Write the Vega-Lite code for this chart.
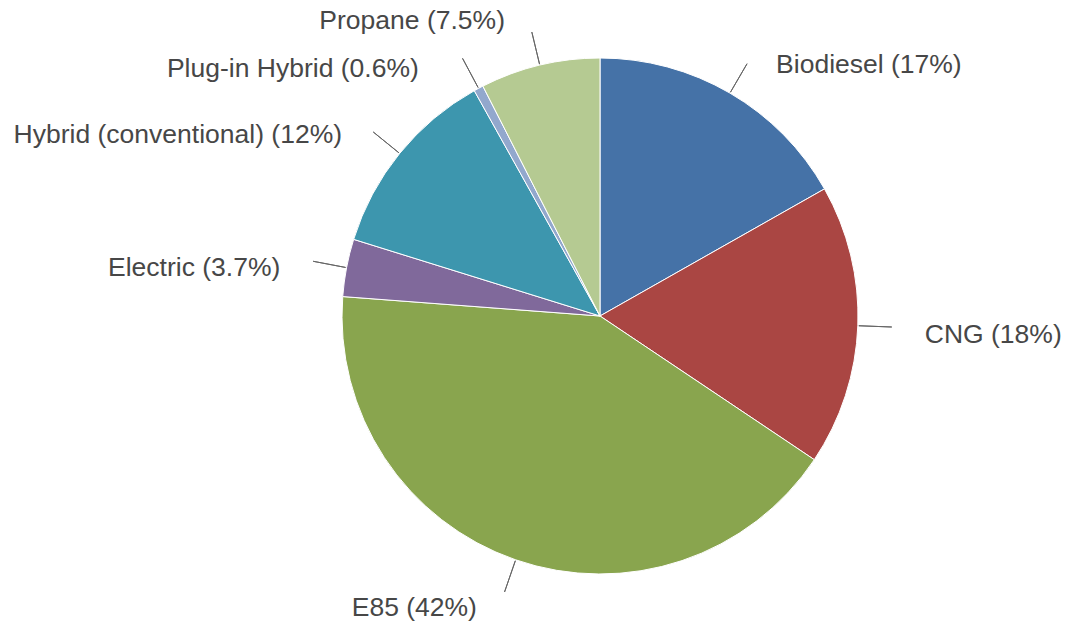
{
  "$schema": "https://vega.github.io/schema/vega-lite/v6.json",
  "autosize": "none",
  "width": 938,
  "height": 632,
  "padding": {"left": 131, "top": 0, "right": 0, "bottom": 0},
  "background": "white",
  "config": {"view": {"stroke": null}},
  "data": {
    "values": [
      {"fuel": "Biodiesel", "share": 16.8, "label": "Biodiesel (17%)", "side": "right"},
      {"fuel": "CNG", "share": 17.6, "label": "CNG (18%)", "side": "right"},
      {"fuel": "E85", "share": 41.8, "label": "E85 (42%)", "side": "left"},
      {"fuel": "Electric", "share": 3.6, "label": "Electric (3.7%)", "side": "left"},
      {"fuel": "Hybrid (conventional)", "share": 12.1, "label": "Hybrid (conventional) (12%)", "side": "left"},
      {"fuel": "Plug-in Hybrid", "share": 0.6, "label": "Plug-in Hybrid (0.6%)", "side": "top2"},
      {"fuel": "Propane", "share": 7.5, "label": "Propane (7.5%)", "side": "top1"}
    ]
  },
  "encoding": {
    "theta": {"field": "share", "type": "quantitative", "stack": true},
    "order": {"field": "fuel", "type": "nominal", "sort": "ascending"}
  },
  "layer": [
    {
      "mark": {"type": "arc", "outerRadius": 258, "stroke": "white", "strokeWidth": 1},
      "encoding": {
        "color": {
          "field": "fuel",
          "type": "nominal",
          "scale": {
            "domain": ["Biodiesel", "CNG", "E85", "Electric", "Hybrid (conventional)", "Plug-in Hybrid", "Propane"],
            "range": ["#4572A7", "#AA4643", "#89A54E", "#80699B", "#3D96AE", "#92A8CD", "#B5CA92"]
          },
          "legend": null
        }
      }
    },
    {
      "mark": {"type": "arc", "innerRadius": 259, "outerRadius": 292, "padAngle": 3.1, "filled": false, "stroke": "#666666", "strokeWidth": 1}
    },
    {
      "mark": {"type": "text", "radius": 300, "align": "left", "baseline": "middle", "dx": 25, "dy": 8, "font": "Liberation Sans", "fontSize": 26.5, "color": "#474747"},
      "encoding": {
        "text": {"condition": {"test": "datum.side === 'right'", "field": "label"}, "value": ""}
      }
    },
    {
      "mark": {"type": "text", "radius": 300, "align": "right", "baseline": "middle", "dx": -25, "dy": 8, "font": "Liberation Sans", "fontSize": 26.5, "color": "#474747"},
      "encoding": {
        "text": {"condition": {"test": "datum.side === 'left'", "field": "label"}, "value": ""}
      }
    },
    {
      "mark": {"type": "text", "radius": 300, "align": "right", "baseline": "middle", "dx": -25, "dy": -3, "font": "Liberation Sans", "fontSize": 26.5, "color": "#474747"},
      "encoding": {
        "text": {"condition": {"test": "datum.side === 'top1'", "field": "label"}, "value": ""}
      }
    },
    {
      "mark": {"type": "text", "radius": 300, "align": "right", "baseline": "middle", "dx": -40, "dy": 18, "font": "Liberation Sans", "fontSize": 26.5, "color": "#474747"},
      "encoding": {
        "text": {"condition": {"test": "datum.side === 'top2'", "field": "label"}, "value": ""}
      }
    }
  ]
}
